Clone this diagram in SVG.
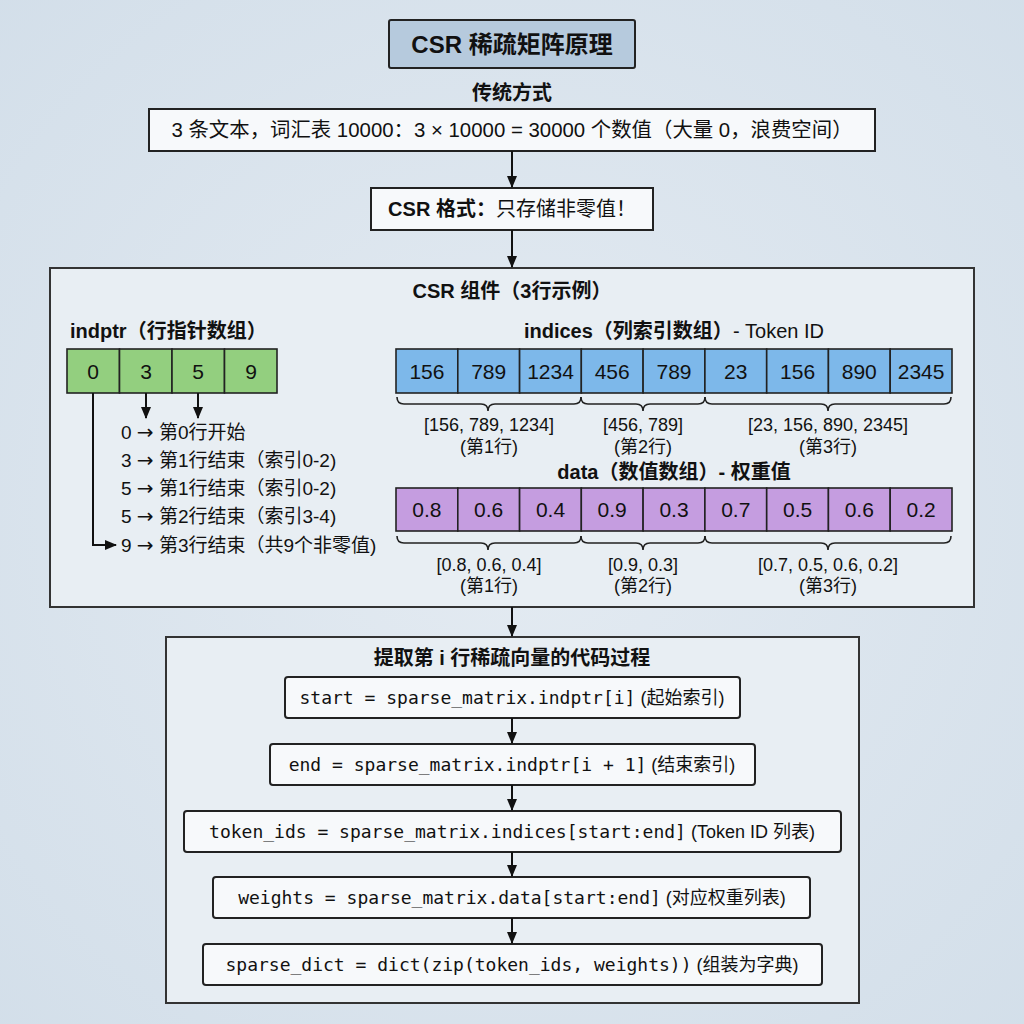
<svg xmlns="http://www.w3.org/2000/svg" width="1024" height="1024" viewBox="0 0 1024 1024">
<defs>
<radialGradient id="bg" cx="50%" cy="50%" r="75%">
<stop offset="0" stop-color="#e4ebf2"/>
<stop offset="1" stop-color="#d2dee9"/>
</radialGradient>
<marker id="ah" markerWidth="12" markerHeight="12" viewBox="0 0 12 12" refX="11" refY="6" orient="auto" markerUnits="userSpaceOnUse">
<path d="M0,1 L12,6 L0,11 Z" fill="#111"/>
</marker>
<style>
text{font-family:"Liberation Sans","Noto Sans CJK SC",sans-serif;fill:#111;}
.b{font-weight:bold;}
.t20{font-size:20px;}
.t18{font-size:18px;}
.t19{font-size:19px;}
.mid{text-anchor:middle;}
.arr{font-family:"DejaVu Sans",sans-serif;font-size:20px;}
.box{fill:#f7f9fb;stroke:#222;stroke-width:2;}
.panel{fill:#e8eef3;stroke:#333;stroke-width:2;}
.cell{stroke:#222;stroke-width:1.6;}
.g{fill:#93cf7f;}
.bl{fill:#7db8ea;}
.pu{fill:#c59de0;}
.val{font-size:21px;text-anchor:middle;}
.code{font-family:"DejaVu Sans Mono","Liberation Mono",monospace;font-size:18px;}
.cn{font-family:"Liberation Sans","Noto Sans CJK SC",sans-serif;font-size:18px;}
.conn{stroke:#111;stroke-width:2;fill:none;}
.brace{stroke:#222;stroke-width:1.6;fill:none;}
</style>
</defs>
<rect width="1024" height="1024" fill="url(#bg)"/>

<g id="title">
<rect x="389" y="20" width="246" height="48" rx="2" fill="#b6cadd" stroke="#222" stroke-width="2"/>
<text x="512" y="52.5" class="b mid" font-size="24">CSR 稀疏矩阵原理</text>
</g>

<g id="traditional-label">
<text x="512" y="100" class="b mid t20">传统方式</text>
</g>

<g id="traditional">
<rect x="149" y="109" width="726" height="42" class="box"/>
<text x="512" y="137" class="mid" font-size="20.4">3 条文本，词汇表 10000：3 × 10000 = 30000 个数值（大量 0，浪费空间）</text>
</g>

<g id="csr-format">
<rect x="371" y="188" width="282" height="42" class="box"/>
<text x="512" y="216" class="mid t20"><tspan class="b">CSR 格式：</tspan>只存储非零值！</text>
</g>

<g id="csr-components">
<rect x="50" y="268" width="924" height="339" class="panel"/>
<text x="512" y="298" class="b mid t20">CSR 组件（3行示例）</text>
</g>

<g id="indptr">
<text x="70" y="338" class="b t20">indptr（行指针数组）</text>
<rect x="67" y="349" width="52.5" height="44" class="cell g"/>
<rect x="119.5" y="349" width="52.5" height="44" class="cell g"/>
<rect x="172" y="349" width="52.5" height="44" class="cell g"/>
<rect x="224.5" y="349" width="52.5" height="44" class="cell g"/>
<text x="93" y="378.5" class="val">0</text>
<text x="146" y="378.5" class="val">3</text>
<text x="198" y="378.5" class="val">5</text>
<text x="251" y="378.5" class="val">9</text>
<text x="121" y="438.5" class="t19">0 <tspan class="arr">→</tspan> 第0行开始</text>
<text x="121" y="466.5" class="t19">3 <tspan class="arr">→</tspan> 第1行结束（索引0-2)</text>
<text x="121" y="494.5" class="t19">5 <tspan class="arr">→</tspan> 第1行结束（索引0-2)</text>
<text x="121" y="523" class="t19">5 <tspan class="arr">→</tspan> 第2行结束（索引3-4)</text>
<text x="121" y="551.5" class="t19">9 <tspan class="arr">→</tspan> 第3行结束（共9个非零值)</text>
</g>

<g id="indices">
<text x="674" y="338" class="mid t20"><tspan class="b">indices（列索引数组）</tspan>- Token ID</text>
<rect x="396" y="349" width="61.8" height="44" class="cell bl"/>
<rect x="457.8" y="349" width="61.8" height="44" class="cell bl"/>
<rect x="519.6" y="349" width="61.8" height="44" class="cell bl"/>
<rect x="581.3" y="349" width="61.8" height="44" class="cell bl"/>
<rect x="643.1" y="349" width="61.8" height="44" class="cell bl"/>
<rect x="704.9" y="349" width="61.8" height="44" class="cell bl"/>
<rect x="766.7" y="349" width="61.8" height="44" class="cell bl"/>
<rect x="828.4" y="349" width="61.8" height="44" class="cell bl"/>
<rect x="890.2" y="349" width="61.8" height="44" class="cell bl"/>
<text x="426.9" y="378.5" class="val">156</text>
<text x="488.7" y="378.5" class="val">789</text>
<text x="550.5" y="378.5" class="val">1234</text>
<text x="612.2" y="378.5" class="val">456</text>
<text x="674" y="378.5" class="val">789</text>
<text x="735.8" y="378.5" class="val">23</text>
<text x="797.6" y="378.5" class="val">156</text>
<text x="859.3" y="378.5" class="val">890</text>
<text x="921.1" y="378.5" class="val">2345</text>
<path class="brace" d="M397,397 q0,7 7,7 H481 q7,0 7,7 q0,-7 7,-7 H574 q7,0 7,-7"/>
<path class="brace" d="M581,397 q0,7 7,7 H636 q7,0 7,7 q0,-7 7,-7 H698 q7,0 7,-7"/>
<path class="brace" d="M705,397 q0,7 7,7 H821 q7,0 7,7 q0,-7 7,-7 H944 q7,0 7,-7"/>
<text x="489" y="431" class="mid t18">[156, 789, 1234]</text>
<text x="489" y="453" class="mid t18">(第1行)</text>
<text x="643" y="431" class="mid t18">[456, 789]</text>
<text x="643" y="453" class="mid t18">(第2行)</text>
<text x="828" y="431" class="mid t18">[23, 156, 890, 2345]</text>
<text x="828" y="453" class="mid t18">(第3行)</text>
</g>

<g id="data">
<text x="674" y="479" class="b mid t20">data（数值数组）- 权重值</text>
<rect x="396" y="488" width="61.8" height="43" class="cell pu"/>
<rect x="457.8" y="488" width="61.8" height="43" class="cell pu"/>
<rect x="519.6" y="488" width="61.8" height="43" class="cell pu"/>
<rect x="581.3" y="488" width="61.8" height="43" class="cell pu"/>
<rect x="643.1" y="488" width="61.8" height="43" class="cell pu"/>
<rect x="704.9" y="488" width="61.8" height="43" class="cell pu"/>
<rect x="766.7" y="488" width="61.8" height="43" class="cell pu"/>
<rect x="828.4" y="488" width="61.8" height="43" class="cell pu"/>
<rect x="890.2" y="488" width="61.8" height="43" class="cell pu"/>
<text x="426.9" y="517" class="val">0.8</text>
<text x="488.7" y="517" class="val">0.6</text>
<text x="550.5" y="517" class="val">0.4</text>
<text x="612.2" y="517" class="val">0.9</text>
<text x="674" y="517" class="val">0.3</text>
<text x="735.8" y="517" class="val">0.7</text>
<text x="797.6" y="517" class="val">0.5</text>
<text x="859.3" y="517" class="val">0.6</text>
<text x="921.1" y="517" class="val">0.2</text>
<path class="brace" d="M397,536 q0,7 7,7 H481 q7,0 7,7 q0,-7 7,-7 H574 q7,0 7,-7"/>
<path class="brace" d="M581,536 q0,7 7,7 H636 q7,0 7,7 q0,-7 7,-7 H698 q7,0 7,-7"/>
<path class="brace" d="M705,536 q0,7 7,7 H821 q7,0 7,7 q0,-7 7,-7 H944 q7,0 7,-7"/>
<text x="489" y="571" class="mid t18">[0.8, 0.6, 0.4]</text>
<text x="489" y="592" class="mid t18">(第1行)</text>
<text x="643" y="571" class="mid t18">[0.9, 0.3]</text>
<text x="643" y="592" class="mid t18">(第2行)</text>
<text x="828" y="571" class="mid t18">[0.7, 0.5, 0.6, 0.2]</text>
<text x="828" y="592" class="mid t18">(第3行)</text>
</g>

<g id="extract-process">
<rect x="166" y="637" width="693" height="366" class="panel"/>
<text x="512" y="665" class="b mid t20">提取第 i 行稀疏向量的代码过程</text>
</g>

<g id="step-start">
<rect x="285" y="677" width="455" height="41" rx="3" class="box"/>
<text x="512" y="703.5" class="mid"><tspan class="code">start = sparse_matrix.indptr[i]</tspan><tspan class="cn"> (起始索引)</tspan></text>
</g>
<g id="step-end">
<rect x="270" y="744" width="485" height="41" rx="3" class="box"/>
<text x="512" y="770.5" class="mid"><tspan class="code">end = sparse_matrix.indptr[i + 1]</tspan><tspan class="cn"> (结束索引)</tspan></text>
</g>
<g id="step-token-ids">
<rect x="184" y="811" width="657" height="41" rx="3" class="box"/>
<text x="512" y="837.5" class="mid"><tspan class="code">token_ids = sparse_matrix.indices[start:end]</tspan><tspan class="cn"> (Token ID 列表)</tspan></text>
</g>
<g id="step-weights">
<rect x="213" y="877" width="597" height="41" rx="3" class="box"/>
<text x="512" y="903.5" class="mid"><tspan class="code">weights = sparse_matrix.data[start:end]</tspan><tspan class="cn"> (对应权重列表)</tspan></text>
</g>
<g id="step-dict">
<rect x="203" y="944" width="619" height="41" rx="3" class="box"/>
<text x="512" y="970.5" class="mid"><tspan class="code">sparse_dict = dict(zip(token_ids, weights))</tspan><tspan class="cn"> (组装为字典)</tspan></text>
</g>

<g id="connectors">
<path class="conn" d="M512,151 V187" marker-end="url(#ah)"/>
<path class="conn" d="M512,230 V267" marker-end="url(#ah)"/>
<path class="conn" d="M512,607 V636" marker-end="url(#ah)"/>
<path class="conn" d="M512,718 V743" marker-end="url(#ah)"/>
<path class="conn" d="M512,785 V810" marker-end="url(#ah)"/>
<path class="conn" d="M512,852 V876" marker-end="url(#ah)"/>
<path class="conn" d="M512,918 V943" marker-end="url(#ah)"/>
<path class="conn" d="M146,393 V418" marker-end="url(#ah)"/>
<path class="conn" d="M198,393 V418" marker-end="url(#ah)"/>
<path class="conn" d="M93,393 V545 H116" marker-end="url(#ah)"/>
</g>
</svg>
